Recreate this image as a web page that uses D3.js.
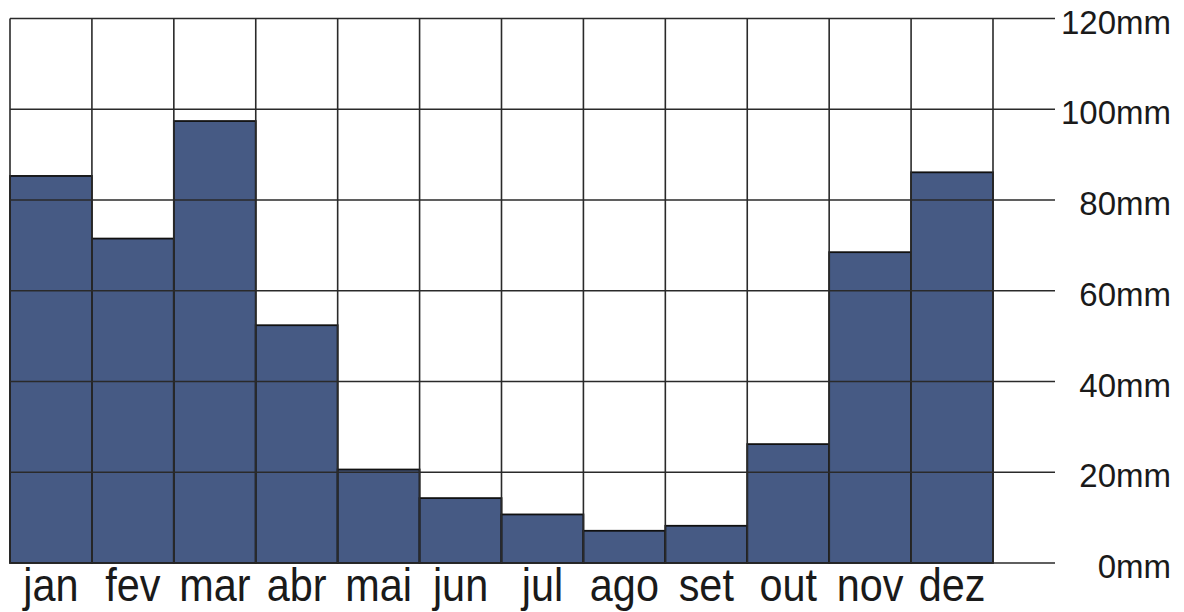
<!DOCTYPE html>
<html>
<head>
<meta charset="utf-8">
<script src="https://cdn.jsdelivr.net/npm/d3@7/dist/d3.min.js"></script>
<style>
  html, body { margin: 0; padding: 0; background: #fff; }
  svg { display: block; }
  text { font-family: "Liberation Sans", Arial, sans-serif; fill: #1a1a1a; }
</style>
</head>
<body>
<svg id="chart" width="1184" height="612"></svg>
<script>
// Monthly rainfall (mm)
const months = ["jan", "fev", "mar", "abr", "mai", "jun", "jul", "ago", "set", "out", "nov", "dez"];
const rainfall = [85.3, 71.5, 97.4, 52.4, 20.6, 14.3, 10.7, 7.1, 8.2, 26.2, 68.5, 86.1];
const yTicks = [0, 20, 40, 60, 80, 100, 120];
const yTickLabels = ["0mm", "20mm", "40mm", "60mm", "80mm", "100mm", "120mm"];

const svg = d3.select("#chart");

const plotLeft = 10, plotRight = 993, tickEnd = 1055;
const x = d3.scaleBand().domain(months).range([plotLeft, plotRight]).padding(0);
const y = d3.scaleLinear().domain([0, 120]).range([563, 18.5]);

// bars
svg.append("g")
  .selectAll("rect")
  .data(months.map((m, i) => ({ m, v: rainfall[i] })))
  .join("rect")
  .attr("x", d => x(d.m))
  .attr("y", d => y(d.v))
  .attr("width", x.bandwidth())
  .attr("height", d => y(0) - y(d.v))
  .attr("fill", "#465a84")
  .attr("stroke", "#111")
  .attr("stroke-width", 1.8);

// horizontal grid lines extending out as ticks
svg.append("g")
  .selectAll("line")
  .data(yTicks)
  .join("line")
  .attr("x1", plotLeft)
  .attr("x2", tickEnd)
  .attr("y1", d => y(d))
  .attr("y2", d => y(d))
  .attr("stroke", "#2a2a2a")
  .attr("stroke-width", 1.6);

// vertical column lines
const bounds = months.map(m => x(m)).concat([plotRight]);
svg.append("g")
  .selectAll("line")
  .data(bounds)
  .join("line")
  .attr("x1", d => d)
  .attr("x2", d => d)
  .attr("y1", y(120))
  .attr("y2", y(0))
  .attr("stroke", "#2a2a2a")
  .attr("stroke-width", 1.6);

// y labels on the right
svg.append("g")
  .selectAll("text")
  .data(yTicks)
  .join("text")
  .attr("x", 1171)
  .attr("y", d => y(d) + 15)
  .attr("text-anchor", "end")
  .attr("font-size", 33)
  .text((d, i) => yTickLabels[i]);

// month labels
svg.append("g")
  .selectAll("text")
  .data(months)
  .join("text")
  .attr("transform", d => `translate(${x(d) + x.bandwidth() / 2},601) scale(0.9,1)`)
  .attr("text-anchor", "middle")
  .attr("font-size", 46)
  .text(d => d);
</script>
</body>
</html>
